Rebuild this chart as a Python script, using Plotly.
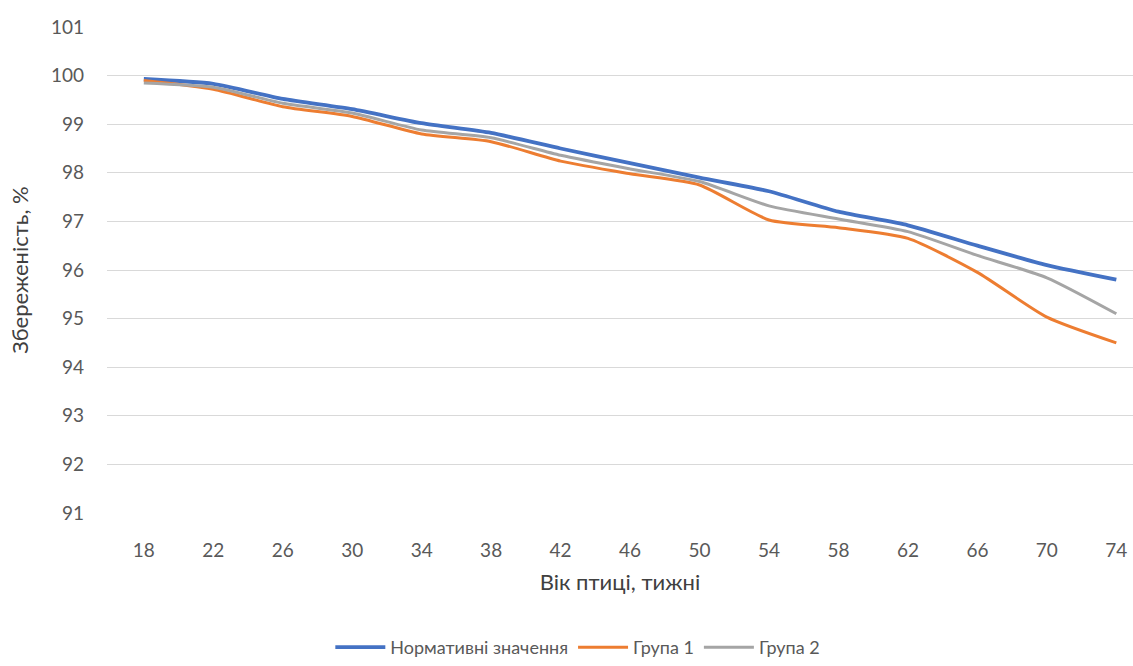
import plotly.graph_objects as go

weeks = ["18", "22", "26", "30", "34", "38", "42", "46", "50", "54", "58", "62", "66", "70", "74"]
normative = [99.93, 99.83, 99.52, 99.31, 99.02, 98.82, 98.5, 98.2, 97.9, 97.62, 97.2, 96.92, 96.5, 96.1, 95.8]
group1 = [99.9, 99.72, 99.36, 99.16, 98.8, 98.64, 98.24, 97.98, 97.75, 97.03, 96.87, 96.65, 95.95, 95.03, 94.5]
group2 = [99.85, 99.76, 99.43, 99.23, 98.88, 98.72, 98.36, 98.08, 97.82, 97.32, 97.05, 96.79, 96.3, 95.84, 95.1]

series_names = ["Нормативні значення", "Група 1", "Група 2"]
colors = ["#4472C4", "#ED7D31", "#A5A5A5"]
widths = [3.8, 3, 3]

fig = go.Figure()
for name, vals, c, w in zip(series_names, [normative, group1, group2], colors, widths):
    fig.add_trace(go.Scatter(
        x=list(range(len(weeks))), y=vals, name=name, mode="lines",
        line=dict(color=c, width=w, shape="spline", smoothing=0.6),
    ))

font_family = "Lato, 'Open Sans', sans-serif"
fig.update_layout(
    width=1133, height=666,
    margin=dict(l=107, r=0, t=27, b=153),
    paper_bgcolor="white", plot_bgcolor="white",
    font=dict(family=font_family, color="#595959", size=18),
    showlegend=True,
    legend=dict(orientation="h", xref="container", yref="container",
                x=0.51, xanchor="center", y=-0.009, yanchor="bottom",
                font=dict(size=18, color="#595959"), traceorder="normal",
                itemwidth=50, tracegroupgap=0),
    xaxis=dict(
        range=[-0.53, 14.24], tickmode="array",
        tickvals=list(range(len(weeks))), ticktext=weeks,
        showgrid=False, zeroline=False, showline=False,
        ticks="", ticklabelstandoff=24,
        tickfont=dict(size=19, color="#595959"),
        title=dict(text="Вік птиці, тижні", font=dict(size=22, color="#404040"), standoff=14),
    ),
    yaxis=dict(
        range=[91, 101], dtick=1, tick0=91,
        showgrid=True, gridcolor="#D9D9D9", gridwidth=1.2,
        zeroline=False, showline=False, ticks="",
        ticklabelstandoff=22,
        tickfont=dict(size=19, color="#595959"),
        title=dict(text="Збереженість, %", font=dict(size=22, color="#404040"), standoff=16),
    ),
)

fig.write_html("out.html")
